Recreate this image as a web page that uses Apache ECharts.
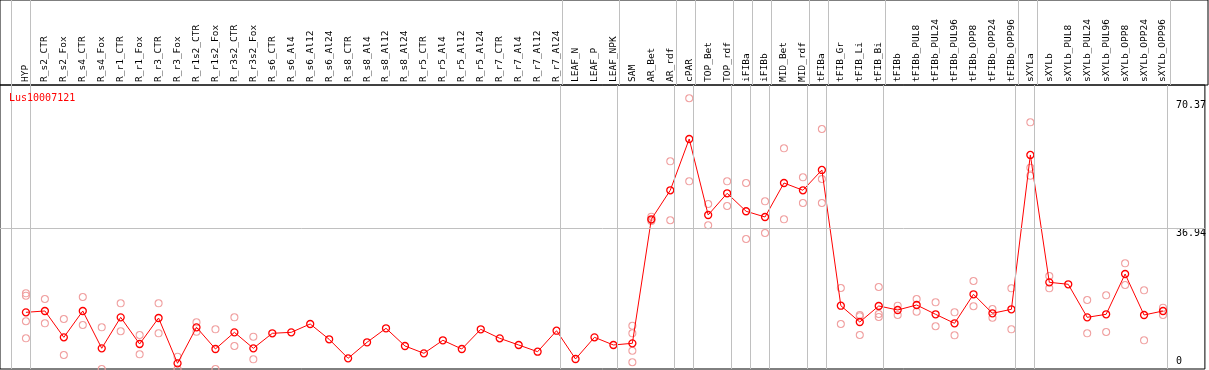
<!DOCTYPE html>
<html>
<head>
<meta charset="utf-8">
<script src="https://cdn.jsdelivr.net/npm/echarts@6/dist/echarts.min.js"></script>
<style>html,body{margin:0;padding:0;background:#fff}#c{width:1209px;height:370px}</style>
</head>
<body>
<div id="c"></div>
<script>
const categories = ['HYP','R_s2_CTR','R_s2_Fox','R_s4_CTR','R_s4_Fox','R_r1_CTR','R_r1_Fox','R_r3_CTR','R_r3_Fox','R_r1s2_CTR','R_r1s2_Fox','R_r3s2_CTR','R_r3s2_Fox','R_s6_CTR','R_s6_Al4','R_s6_Al12','R_s6_Al24','R_s8_CTR','R_s8_Al4','R_s8_Al12','R_s8_Al24','R_r5_CTR','R_r5_Al4','R_r5_Al12','R_r5_Al24','R_r7_CTR','R_r7_Al4','R_r7_Al12','R_r7_Al24','LEAF_N','LEAF_P','LEAF_NPK','SAM','AR_Bet','AR_rdf','cPAR','TOP_Bet','TOP_rdf','iFIBa','iFIBb','MID_Bet','MID_rdf','tFIBa','tFIB_Gr','tFIB_Li','tFIB_Bi','tFIBb','tFIBb_PUL8','tFIBb_PUL24','tFIBb_PUL96','tFIBb_OPP8','tFIBb_OPP24','tFIBb_OPP96','sXYLa','sXYLb','sXYLb_PUL8','sXYLb_PUL24','sXYLb_PUL96','sXYLb_OPP8','sXYLb_OPP24','sXYLb_OPP96'];

const means = [14.85,15.20,8.30,15.20,5.42,13.54,6.55,13.36,1.49,10.92,5.24,9.61,5.42,9.35,9.61,11.79,7.78,2.80,7.00,10.66,6.03,4.11,7.52,5.24,10.40,8.04,6.29,4.53,10.03,2.62,8.30,6.29,6.73,39.22,46.82,60.26,40.35,46.03,41.32,39.82,48.73,46.82,52.14,16.58,12.31,16.51,15.46,16.77,14.33,11.97,19.57,14.59,15.64,56.07,22.71,22.19,13.54,14.33,24.89,14.15,15.20];

const replicates = [
  [19.83,19.20,12.50,8.04],[18.34,11.97],[13.10,3.67],[18.86,11.53],[10.92,0.0],
  [17.21,9.88],[8.91,3.85],[17.21,9.35],[3.22,0.0],[12.23,9.77],
  [10.40,0.0],[13.54,6.03],[8.46,2.54],[],[],[],[],[],[],[],[],[],[],[],[],[],[],[],[],[],[],[],
  [11.34,9.35,4.79,1.76],[39.90,39.04,38.77],[54.41,38.96],[70.92,49.17],[43.23,37.65],[49.17,42.70],
  [48.73,34.06],[43.93,35.63],[57.82,39.22],[50.22,43.49],[62.88,49.78,43.49],[21.22,11.79],
  [14.15,13.80,8.91],[21.48,14.41,13.62],[16.58,14.15],[18.34,15.01],[17.47,11.19],[14.85,8.83],
  [23.05,16.43],[15.72,13.44],[21.14,10.40],[64.63,52.74,50.64],[24.36,21.14],[],
  [18.08,9.35],[19.31,9.69],[27.69,22.01],[20.62,7.52],[16.06,14.15]
];

const groupEnds = [-1,0,28,31,34,35,37,38,39,41,42,45,52,53,60];
const yTickLabels = [36.94, 70.37];
const yZeroLabel = [0];
const guideValue = 36.94;
const title = 'Lus10007121';

const FONT = 'DejaVu Sans Mono';
const XMIN = -26/19, XMAX = XMIN + 1208/19;
const YMIN = 0, YMAX = 74.4;

const repData = [];
replicates.forEach((arr, i) => arr.forEach(v => repData.push([i, v])));
const meanData = means.map((v, i) => [i, v]);
const vLines = groupEnds.map(g => ({ xAxis: g + 0.22 }));
const gridLineStyle = { color: '#c0c0c0', width: 1, type: 'solid' };

const chart = echarts.init(document.getElementById('c'), null, { renderer: 'canvas' });
chart.setOption({
  animation: false,
  title: { text: title, left: 4, top: 88, textStyle: { color: '#ff0000', fontFamily: FONT, fontSize: 10, fontWeight: 'normal' } },
  grid: [
    { left: 0, right: 1, top: 85, bottom: 1, show: true, borderColor: '#000', borderWidth: 1, backgroundColor: 'transparent' },
    { left: 0, right: 1, top: 0, height: 85, show: true, borderColor: '#000', borderWidth: 1, backgroundColor: 'transparent' }
  ],
  xAxis: [
    { gridIndex: 0, type: 'value', min: XMIN, max: XMAX, position: 'top',
      axisLine: { show: false }, axisTick: { show: false }, splitLine: { show: false },
      axisLabel: { customValues: categories.map((_, i) => i), formatter: v => categories[Math.round(v)] || '',
        rotate: 90, margin: 3, fontFamily: FONT, fontSize: 9.5, color: '#000' } },
    { gridIndex: 1, type: 'value', min: XMIN, max: XMAX, show: false }
  ],
  yAxis: [
    { gridIndex: 0, type: 'value', min: YMIN, max: YMAX, position: 'right',
      axisLine: { show: false }, axisTick: { show: false }, splitLine: { show: false },
      axisLabel: { inside: true, customValues: yTickLabels, formatter: v => String(v),
        align: 'left', verticalAlign: 'top', margin: 29, fontFamily: FONT, fontSize: 10, color: '#000' } },
    { gridIndex: 0, type: 'value', min: YMIN, max: YMAX, position: 'right',
      axisLine: { show: false }, axisTick: { show: false }, splitLine: { show: false },
      axisLabel: { inside: true, customValues: yZeroLabel, formatter: v => String(v),
        align: 'left', verticalAlign: 'bottom', margin: 29, padding: [0,0,3,0], fontFamily: FONT, fontSize: 10, color: '#000' } },
    { gridIndex: 1, type: 'value', min: 0, max: 1, show: false }
  ],
  series: [
    { type: 'scatter', xAxisIndex: 0, yAxisIndex: 0, data: [], silent: true, z: 1,
      markLine: { silent: true, symbol: ['none', 'none'], label: { show: false }, lineStyle: gridLineStyle,
        data: vLines.concat([{ yAxis: guideValue }]) } },
    { type: 'scatter', xAxisIndex: 1, yAxisIndex: 2, data: [], silent: true, z: 1,
      markLine: { silent: true, symbol: ['none', 'none'], label: { show: false }, lineStyle: gridLineStyle,
        data: vLines } },
    { type: 'scatter', xAxisIndex: 0, yAxisIndex: 0, data: repData, symbol: 'circle', symbolSize: 7, z: 2,
      itemStyle: { color: 'rgba(0,0,0,0)', borderColor: '#f0a0a0', borderWidth: 1.1, opacity: 1 } },
    { type: 'line', xAxisIndex: 0, yAxisIndex: 0, data: meanData, symbol: 'circle', symbolSize: 7, z: 3,
      lineStyle: { color: '#ff0000', width: 1 },
      itemStyle: { color: 'rgba(0,0,0,0)', borderColor: '#ff0000', borderWidth: 1.3 } }
  ]
});
</script>
</body>
</html>
